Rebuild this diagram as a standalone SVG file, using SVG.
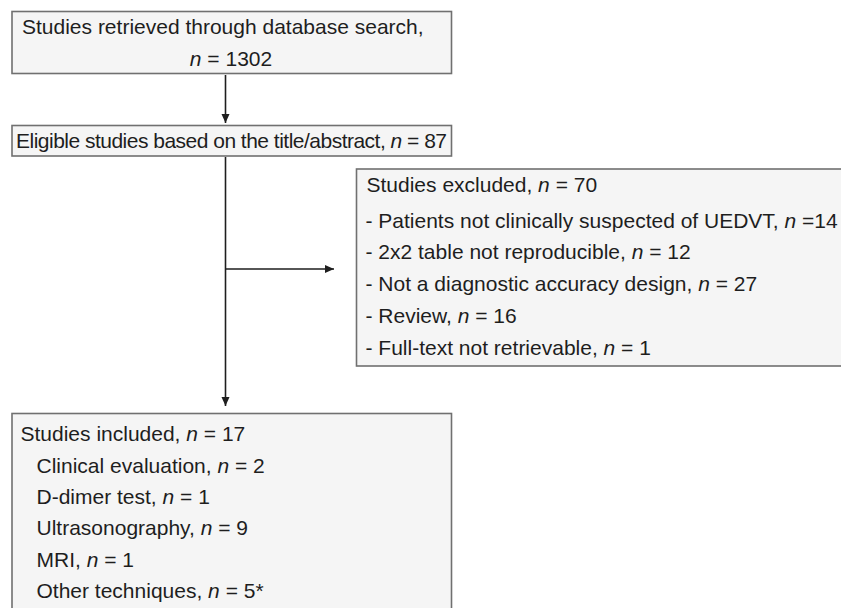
<svg xmlns="http://www.w3.org/2000/svg" width="841" height="608" viewBox="0 0 841 608">
<defs>
<style>
.box{fill:#f5f5f5;stroke:#707070;stroke-width:1.6}
text{font-family:"Liberation Sans",Arial,sans-serif;font-size:21px;fill:#1e1e1e}
.i{font-style:italic}
.c{stroke:#1e1e1e;stroke-width:1.6;fill:none}
</style>
<marker id="ah" markerWidth="10" markerHeight="10" refX="9" refY="5" orient="auto" markerUnits="userSpaceOnUse">
<path d="M0,1 L9,5 L0,9 Z" fill="#1e1e1e"/>
</marker>
</defs>
<rect width="841" height="608" fill="#ffffff"/>
<g id="connectors">
<line class="c" x1="225.5" y1="75" x2="225.5" y2="123" marker-end="url(#ah)"/>
<line class="c" x1="225.5" y1="157" x2="225.5" y2="406" marker-end="url(#ah)"/>
<line class="c" x1="225.5" y1="269" x2="334" y2="269" marker-end="url(#ah)"/>
</g>
<g id="retrieved">
<rect class="box" x="12" y="11.5" width="439.5" height="62"/>
<text x="22" y="33.5">Studies retrieved through database search,</text>
<text x="231" y="65.5" text-anchor="middle"><tspan class="i">n</tspan> = 1302</text>
</g>
<g id="eligible">
<rect class="box" x="12" y="125.5" width="439.5" height="30.5"/>
<text x="16" y="147.5" textLength="431" lengthAdjust="spacing">Eligible studies based on the title/abstract, <tspan class="i">n</tspan> = 87</text>
</g>
<g id="excluded">
<rect class="box" x="356.5" y="169" width="500" height="197"/>
<text x="366.5" y="191.5">Studies excluded, <tspan class="i">n</tspan> = 70</text>
<text x="365.5" y="227.5">- Patients not clinically suspected of UEDVT, <tspan class="i">n</tspan> =14</text>
<text x="365.5" y="259">- 2x2 table not reproducible, <tspan class="i">n</tspan> = 12</text>
<text x="365.5" y="291">- Not a diagnostic accuracy design, <tspan class="i">n</tspan> = 27</text>
<text x="365.5" y="323">- Review, <tspan class="i">n</tspan> = 16</text>
<text x="365.5" y="355">- Full-text not retrievable, <tspan class="i">n</tspan> = 1</text>
</g>
<g id="included">
<rect class="box" x="12" y="413.5" width="439.5" height="210"/>
<text x="20.5" y="441">Studies included, <tspan class="i">n</tspan> = 17</text>
<text x="36.5" y="472.5">Clinical evaluation, <tspan class="i">n</tspan> = 2</text>
<text x="36.5" y="504">D-dimer test, <tspan class="i">n</tspan> = 1</text>
<text x="36.5" y="535">Ultrasonography, <tspan class="i">n</tspan> = 9</text>
<text x="36.5" y="567">MRI, <tspan class="i">n</tspan> = 1</text>
<text x="36.5" y="598">Other techniques, <tspan class="i">n</tspan> = 5*</text>
</g>
</svg>
